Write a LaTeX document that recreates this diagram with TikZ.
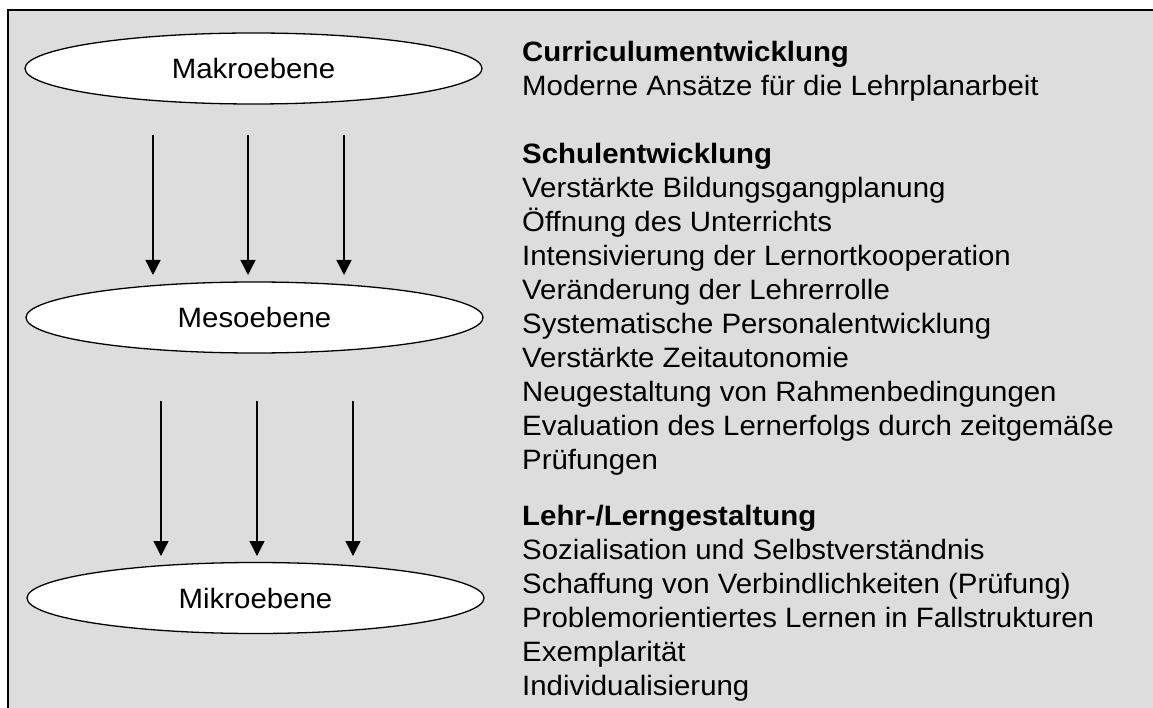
\documentclass[tikz,border=0pt]{standalone}
\usepackage{fontspec}
\setmainfont[FakeStretch=1.05]{Liberation Sans}
\usetikzlibrary{shapes.geometric,arrows.meta}
\definecolor{bg}{RGB}{221,221,221}
\tikzset{
  level/.style={draw, fill=white, ellipse, line width=1.3pt, minimum width=457pt, minimum height=71pt, inner sep=0pt, font=\fontsize{28}{34}\selectfont},
  txt/.style={anchor=base west, align=left, inner sep=0pt, font=\fontsize{28}{34}\selectfont},
  arr/.style={line width=1.3pt, -{Triangle[length=15pt,width=15pt]}},
  frame/.style={draw, fill=bg, line width=1.5pt}
}
\begin{document}
\begin{tikzpicture}[x=1pt,y=-1pt]
\useasboundingbox (0,0) rectangle (1153,708);
\begin{scope}
\clip (0,0) rectangle (1153,708);
\draw[frame] (8,10) rectangle (1175,730);
\end{scope}
\node[level] (makro) at (253.5,68.5) {Makroebene};
\node[level] (meso) at (254.5,317.5) {Mesoebene};
\node[level] (mikro) at (255.5,598) {Mikroebene};
\coordinate (a1s) at (153,135); \coordinate (a1e) at (153,275);
\coordinate (a2s) at (248,135); \coordinate (a2e) at (248,275);
\coordinate (a3s) at (344,135); \coordinate (a3e) at (344,275);
\coordinate (b1s) at (161,401); \coordinate (b1e) at (161,556);
\coordinate (b2s) at (257,401); \coordinate (b2e) at (257,556);
\coordinate (b3s) at (353,401); \coordinate (b3e) at (353,556);
\draw[arr] (a1s) -- (a1e);
\draw[arr] (a2s) -- (a2e);
\draw[arr] (a3s) -- (a3e);
\draw[arr] (b1s) -- (b1e);
\draw[arr] (b2s) -- (b2e);
\draw[arr] (b3s) -- (b3e);
% base anchor = baseline of the last line
\node[txt] (curr) at (522,96) {\textbf{Curriculumentwicklung}\\Moderne Ansätze für die Lehrplanarbeit};
\node[txt] (schul) at (522,469) {\textbf{Schulentwicklung}\\Verstärkte Bildungsgangplanung\\Öffnung des Unterrichts\\Intensivierung der Lernortkooperation\\Veränderung der Lehrerrolle\\Systematische Personalentwicklung\\Verstärkte Zeitautonomie\\Neugestaltung von Rahmenbedingungen\\Evaluation des Lernerfolgs durch zeitgemäße\\Prüfungen};
\node[txt] (lehr) at (522,695) {\textbf{Lehr-/Lerngestaltung}\\Sozialisation und Selbstverständnis\\Schaffung von Verbindlichkeiten (Prüfung)\\Problemorientiertes Lernen in Fallstrukturen\\Exemplarität\\Individualisierung};
\end{tikzpicture}
\end{document}
